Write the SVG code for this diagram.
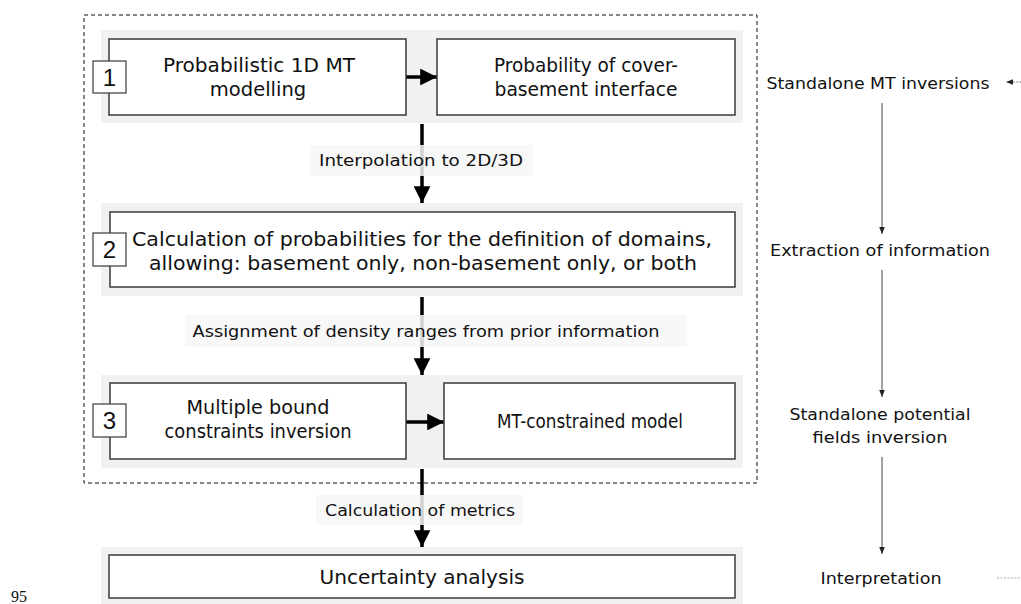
<svg xmlns="http://www.w3.org/2000/svg" width="1021" height="604" viewBox="0 0 1021 604">
<defs>
<style>
.band{fill:#f1f1f1;}
.box{fill:#fff;stroke:#3a3a3a;stroke-width:1.5;}
.num{fill:#fff;stroke:#3a3a3a;stroke-width:1.2;}
.t{font-family:"DejaVu Sans",Verdana,sans-serif;font-size:19.5px;fill:#111;text-anchor:middle;}
.lt{font-family:"DejaVu Sans",Verdana,sans-serif;font-size:16px;fill:#111;text-anchor:middle;}
.rt{font-family:"DejaVu Sans",Verdana,sans-serif;font-size:16.5px;fill:#111;text-anchor:middle;}
.n{font-family:"Liberation Sans",Arial,sans-serif;font-size:24px;fill:#111;text-anchor:middle;}
.lbg{fill:#f7f7f7;fill-opacity:0.85;}
.bold{stroke:#000;stroke-width:3.5;fill:none;}
.thin{stroke:#444;stroke-width:1;fill:none;}
</style>
<marker id="ah" viewBox="0 0 10 10" refX="10" refY="5" markerWidth="4.8" markerHeight="4.8" markerUnits="strokeWidth" orient="auto"><path d="M0,0 L10,5 L0,10 z" fill="#000"/></marker>
<marker id="ahs" viewBox="0 0 10 10" refX="10" refY="5" markerWidth="7" markerHeight="7" markerUnits="strokeWidth" orient="auto"><path d="M0,1 L10,5 L0,9 z" fill="#222"/></marker>
</defs>
<rect width="1021" height="604" fill="#fff"/>
<rect x="84" y="15" width="673" height="468" fill="none" stroke="#111" stroke-width="1" stroke-dasharray="4,3"/>
<g id="band1"><rect class="band" x="101" y="30" width="642" height="93"/></g>
<g id="band2"><rect class="band" x="101" y="203" width="642" height="93"/></g>
<g id="band3"><rect class="band" x="101" y="375" width="642" height="93"/></g>
<g id="band4"><rect class="band" x="101" y="547" width="642" height="70"/></g>
<g id="connectors">
<line class="bold" x1="406" y1="77" x2="437" y2="77" marker-end="url(#ah)"/>
<line class="bold" x1="406" y1="422" x2="444" y2="422" marker-end="url(#ah)"/>
<line class="bold" x1="422" y1="124" x2="422" y2="203" marker-end="url(#ah)"/>
<line class="bold" x1="422" y1="297" x2="422" y2="375" marker-end="url(#ah)"/>
<line class="bold" x1="422" y1="469" x2="422" y2="547" marker-end="url(#ah)"/>
<line class="thin" x1="882" y1="103" x2="882" y2="234" marker-end="url(#ahs)"/>
<line class="thin" x1="882" y1="270" x2="882" y2="397" marker-end="url(#ahs)"/>
<line class="thin" x1="882" y1="457" x2="882" y2="554" marker-end="url(#ahs)"/>
<line x1="1021" y1="82" x2="1006" y2="82" stroke="#666" stroke-width="1" stroke-dasharray="1.5,1.5" marker-end="url(#ahs)"/>
<line x1="997" y1="578" x2="1020" y2="578" stroke="#aaa" stroke-width="1" stroke-dasharray="2,1.5"/>
</g>
<g id="label1"><rect class="lbg" x="310" y="145" width="223" height="31"/><text class="lt" x="421" y="166" textLength="204" lengthAdjust="spacingAndGlyphs">Interpolation to 2D/3D</text></g>
<g id="label2"><rect class="lbg" x="185" y="315" width="502" height="32"/><text class="lt" x="426" y="337" textLength="467" lengthAdjust="spacingAndGlyphs">Assignment of density ranges from prior information</text></g>
<g id="label3"><rect class="lbg" x="316" y="495" width="207" height="30"/><text class="lt" x="420" y="516" textLength="190" lengthAdjust="spacingAndGlyphs">Calculation of metrics</text></g>
<g id="node1">
<rect class="box" x="109" y="39" width="297" height="76"/>
<text class="t" x="259" y="72" textLength="192" lengthAdjust="spacingAndGlyphs">Probabilistic 1D MT</text>
<text class="t" x="258" y="96">modelling</text>
<rect class="num" x="93" y="61" width="33" height="32"/><text class="n" x="109.5" y="86">1</text>
</g>
<g id="node1b">
<rect class="box" x="437" y="39" width="298" height="76"/>
<text class="t" x="586" y="72" textLength="184" lengthAdjust="spacingAndGlyphs">Probability of cover-</text>
<text class="t" x="586" y="96" textLength="183" lengthAdjust="spacingAndGlyphs">basement interface</text>
</g>
<g id="node2">
<rect class="box" x="110" y="212" width="625" height="75"/>
<text class="t" x="422" y="246" textLength="580" lengthAdjust="spacingAndGlyphs">Calculation of probabilities for the definition of domains,</text>
<text class="t" x="423" y="270" textLength="548" lengthAdjust="spacingAndGlyphs">allowing: basement only, non-basement only, or both</text>
<rect class="num" x="93" y="233" width="33" height="33"/><text class="n" x="109.5" y="258">2</text>
</g>
<g id="node3">
<rect class="box" x="110" y="383" width="296" height="76"/>
<text class="t" x="258" y="414" textLength="143" lengthAdjust="spacingAndGlyphs">Multiple bound</text>
<text class="t" x="258" y="438" textLength="187" lengthAdjust="spacingAndGlyphs">constraints inversion</text>
<rect class="num" x="93" y="404" width="33" height="33"/><text class="n" x="109.5" y="429">3</text>
</g>
<g id="node3b">
<rect class="box" x="444" y="383" width="291" height="76"/>
<text class="t" x="590" y="428" textLength="186" lengthAdjust="spacingAndGlyphs">MT-constrained model</text>
</g>
<g id="node4">
<rect class="box" x="109" y="555" width="626" height="43"/>
<text class="t" x="422" y="584" textLength="205" lengthAdjust="spacingAndGlyphs">Uncertainty analysis</text>
</g>
<g id="right1"><text class="rt" x="878" y="89" textLength="223" lengthAdjust="spacingAndGlyphs">Standalone MT inversions</text></g>
<g id="right2"><text class="rt" x="880" y="256" textLength="220" lengthAdjust="spacingAndGlyphs">Extraction of information</text></g>
<g id="right3"><text class="rt" x="880" y="420" textLength="181" lengthAdjust="spacingAndGlyphs">Standalone potential</text><text class="rt" x="880" y="443" textLength="135" lengthAdjust="spacingAndGlyphs">fields inversion</text></g>
<g id="right4"><text class="rt" x="881" y="584" textLength="121" lengthAdjust="spacingAndGlyphs">Interpretation</text></g>
<text x="11" y="602" font-family="Liberation Serif,Times New Roman,serif" font-size="16" fill="#111">95</text>
</svg>
